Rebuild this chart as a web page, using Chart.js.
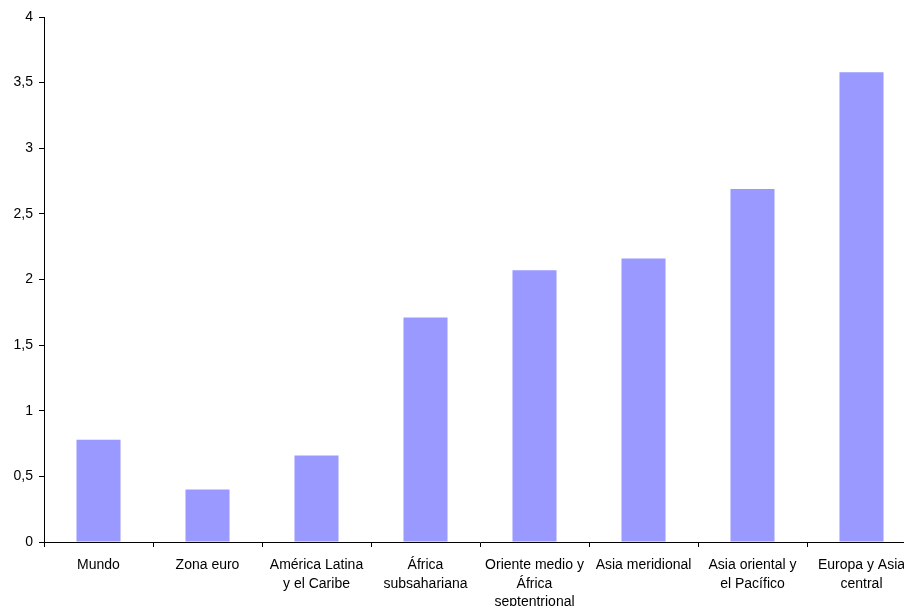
<!DOCTYPE html>
<html>
<head>
<meta charset="utf-8">
<script src="https://cdn.jsdelivr.net/npm/chart.js@4"></script>
<style>
html,body{margin:0;padding:0;background:#fff;overflow:hidden;}
#wrap{width:920px;height:606px;}
</style>
</head>
<body>
<div id="wrap"><canvas id="c" width="920" height="606"></canvas></div>
<script>
const categories = [
  ["Mundo"],
  ["Zona euro"],
  ["América Latina", "y el Caribe"],
  ["África", "subsahariana"],
  ["Oriente medio y", "África", "septentrional"],
  ["Asia meridional"],
  ["Asia oriental y", "el Pacífico"],
  ["Europa y Asia", "central"]
];
const values = [0.78, 0.40, 0.66, 1.71, 2.07, 2.16, 2.69, 3.58];
const yMin = 0, yMax = 4, yStep = 0.5;

const font = {family: "'Liberation Sans', Arial, Helvetica, sans-serif", size: 14, lineHeight: 1.33};

new Chart(document.getElementById('c'), {
  type: 'bar',
  data: {
    labels: categories,
    datasets: [{
      data: values,
      backgroundColor: '#9999FF',
      borderWidth: 0,
      categoryPercentage: 1.0,
      barPercentage: 0.404
    }]
  },
  options: {
    responsive: false,
    animation: false,
    devicePixelRatio: 1,
    layout: {padding: {top: 17, right: 4, left: 0, bottom: 0}},
    plugins: {legend: {display: false}, tooltip: {enabled: false}},
    scales: {
      x: {
        offset: true,
        grid: {offset: true, drawOnChartArea: false, drawTicks: true, tickLength: 5, color: '#000', lineWidth: 1},
        border: {display: true, color: '#000', width: 1},
        ticks: {color: '#000', font: font, padding: 9, maxRotation: 0, autoSkip: false},
        afterFit: s => { s.height = 64; }
      },
      y: {
        min: yMin, max: yMax,
        grid: {drawOnChartArea: false, drawTicks: true, tickLength: 5, color: '#000', lineWidth: 1},
        border: {display: true, color: '#000', width: 1},
        ticks: {stepSize: yStep, color: '#000', font: font, padding: 6,
          callback: v => String(v).replace('.', ',')},
        afterFit: s => { s.width = 44; }
      }
    }
  }
});
</script>
</body>
</html>
